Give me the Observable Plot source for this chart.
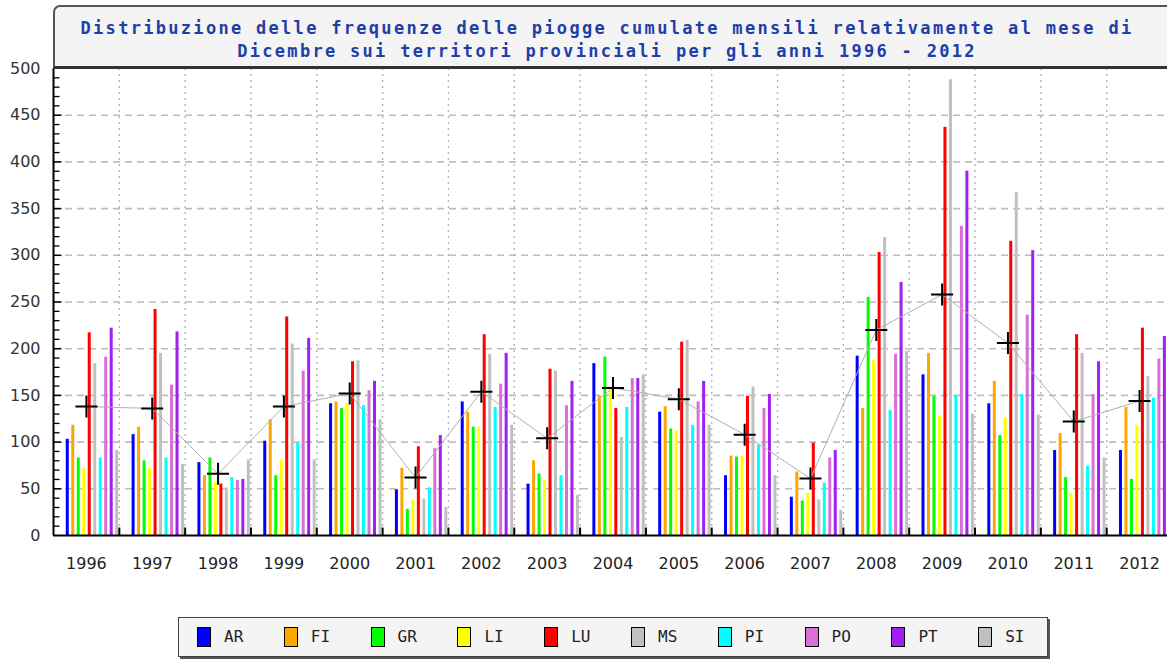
<!DOCTYPE html>
<html><head><meta charset="utf-8">
<script src="https://cdn.jsdelivr.net/npm/d3@7"></script>
<script src="https://cdn.jsdelivr.net/npm/@observablehq/plot@0.6"></script>
<style>
html,body{margin:0;padding:0;background:#fff;overflow:hidden;width:1167px;height:660px;}
#wrap{position:relative;width:1167px;height:660px;overflow:hidden;}
#chart{position:absolute;left:0;top:0;width:1200px;}
#title{position:absolute;left:53px;top:5px;width:1200px;height:59px;background:#f4f4f4;border-top:2px solid #555;border-left:2px solid #555;border-bottom:3px solid #333;border-top-left-radius:7px;}
#title div{position:absolute;left:0;width:1104px;text-align:center;font-family:"DejaVu Sans Mono",monospace;font-weight:bold;font-size:17px;letter-spacing:2.3px;color:#1f3ea8;white-space:nowrap;line-height:20px;}
#legend{position:absolute;left:178px;top:617px;width:868px;height:38px;background:#f4f4f4;border:1px solid #444;box-shadow:2px 2px 0 #555;}
.item{position:absolute;top:9px;height:20px;}
.sw{position:absolute;left:0;top:0;width:12px;height:18px;border:1px solid #000;}
.lb{position:absolute;left:27px;top:0;font-family:"DejaVu Sans Mono",monospace;font-size:16px;line-height:20px;color:#222;}
</style>
</head><body>
<div id="wrap">
  <div id="chart"></div>
  <div id="title">
    <div style="top:11px">Distribuzione delle frequenze delle piogge cumulate mensili relativamente al mese di</div>
    <div style="top:34px">Dicembre sui territori provinciali per gli anni 1996 - 2012</div>
  </div>
  <div id="legend"></div>
</div>
<script>
const years = [1996,1997,1998,1999,2000,2001,2002,2003,2004,2005,2006,2007,2008,2009,2010,2011,2012];
const series = ["AR","FI","GR","LI","LU","MS","PI","PO","PT","SI"];
const colors = ["#0000ff","#ffa500","#00ff00","#ffff00","#ff0000","#c0c0c0","#00ffff","#da70d6","#a020f0","#c0c0c0"];
const AR = [103,108,78,101,141,49,143,55,184,132,64,41,192,172,141,91,91];
const FI = [118,116,64,124,143,72,132,80,149,138,85,68,136,195,165,109,137];
const GR = [83,80,83,64,136,28,116,66,191,114,84,37,255,149,107,62,60];
const LI = [72,72,57,81,141,38,116,59,157,112,85,45,187,128,126,45,118];
const LU = [217,242,55,234,186,95,215,178,136,207,149,99,303,437,315,215,222];
const MS = [184,195,51,205,187,39,194,176,105,209,159,38,319,488,367,195,170];
const PI = [83,83,62,99,139,51,137,64,137,118,97,56,134,149,151,74,147];
const PO = [191,161,59,176,155,93,162,139,168,143,136,83,194,331,236,151,189];
const PT = [222,218,60,211,165,107,195,165,168,165,151,91,271,390,305,186,213];
const SI = [91,76,81,81,124,30,118,43,172,118,64,27,197,130,129,83,130];
const media = [138,136,66,138,152,62,154,104,158,146,108,61,220,258,206,122,144];
const yTicks = [0,50,100,150,200,250,300,350,400,450,500];

const values = {AR,FI,GR,LI,LU,MS,PI,PO,PT,SI};
const rows = [];
series.forEach((s,i) => years.forEach((y,j) => rows.push({year:y, series:s, idx:i, value:values[s][j]})));
const meanRows = years.map((y,j) => ({year:y, mean:media[j]}));

// layout of bars inside each year band (in year units)
const first = -0.283, step = 0.0834, half = 0.0228;
const cx = d => d.year + first + d.idx*step;

const rad = size => Math.sqrt(size/Math.PI);
const hTick = {draw(c,s){const r=rad(s); c.moveTo(0,0); c.lineTo(r,0);}};
const vTick = {draw(c,s){const r=rad(s); c.moveTo(0,0); c.lineTo(0,-r);}};
const cross = {draw(c,s){const r=rad(s); c.moveTo(-r,0); c.lineTo(r,0); c.moveTo(0,-r); c.lineTo(0,r);}};

const minorTicks = d3.range(10,500,10).filter(v => v % 50 !== 0);
const majorTicks = yTicks.filter(v => v > 0 && v < 500);
const bounds = years.map(y => y + 0.5);

const chart = Plot.plot({
  width: 1175, height: 600,
  marginLeft: 53, marginRight: 3, marginTop: 68, marginBottom: 65,
  style: {maxWidth: "none", fontFamily: "DejaVu Sans", background: "transparent"},
  x: {domain: [1995.5, 2012.5], axis: null, label: null},
  y: {domain: [0, 500], axis: null, label: null},
  color: {domain: series, range: colors},
  marks: [
    Plot.ruleY(majorTicks, {stroke: "#bdbdbd", strokeWidth: 1.6, strokeDasharray: "7,5"}),
    Plot.ruleX(bounds.slice(0,-1), {stroke: "#b5b5b5", strokeWidth: 1.4, strokeDasharray: "2,4"}),
    Plot.rectY(rows, {x1: d => cx(d) - half, x2: d => cx(d) + half, y: "value", fill: "series"}),
    Plot.line(meanRows, {x: "year", y: "mean", stroke: "#b0b0b0", strokeWidth: 1}),
    Plot.dot(meanRows, {x: "year", y: "mean", symbol: cross, r: 11, stroke: "#000", strokeWidth: 2, fill: "none"}),
    Plot.ruleY([0], {stroke: "#000", strokeWidth: 2}),
    Plot.ruleX([1995.5], {stroke: "#000", strokeWidth: 2}),
    Plot.dot(minorTicks, {y: d => d, frameAnchor: "left", symbol: hTick, r: 6, stroke: "#000", strokeWidth: 1.3, fill: "none"}),
    Plot.dot(majorTicks, {y: d => d, frameAnchor: "left", symbol: hTick, r: 8, stroke: "#000", strokeWidth: 1.5, fill: "none"}),
    Plot.dot(bounds, {x: d => d, frameAnchor: "bottom", symbol: vTick, r: 8, stroke: "#000", strokeWidth: 2, fill: "none"}),
    Plot.axisY({anchor: "left", label: null, ticks: yTicks, tickSize: 0, tickPadding: 13, fontSize: 16, tickFormat: d => String(d), fill: "#333"}),
    Plot.axisX({anchor: "bottom", label: null, ticks: years, tickSize: 0, tickPadding: 22, fontSize: 16, tickFormat: d => String(d), fill: "#222"})
  ]
});
document.getElementById("chart").appendChild(chart);

const legend = document.getElementById("legend");
series.forEach((s,i) => {
  const it = document.createElement("div");
  it.className = "item";
  it.style.left = (18 + i*86.8) + "px";
  const sw = document.createElement("div");
  sw.className = "sw"; sw.style.background = colors[i];
  const lb = document.createElement("div");
  lb.className = "lb"; lb.textContent = s;
  it.appendChild(sw); it.appendChild(lb);
  legend.appendChild(it);
});
</script>
</body></html>
